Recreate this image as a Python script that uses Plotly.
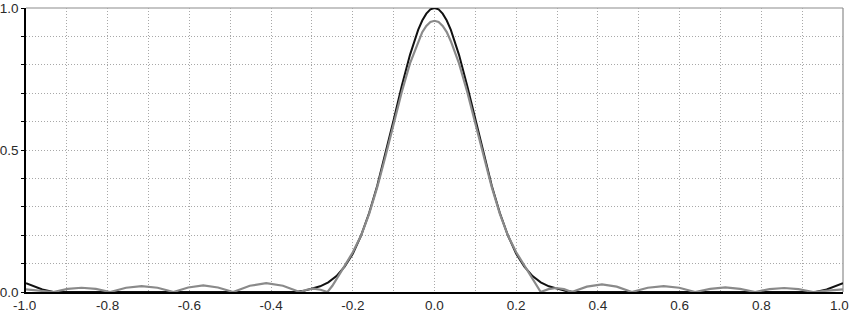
import plotly.graph_objects as go

# ---- data ----
black_x = [-1.0, -0.98, -0.96, -0.933, -0.34, -0.32, -0.30, -0.28, -0.26, -0.24, -0.22,
           -0.20, -0.18, -0.16, -0.14, -0.12, -0.10, -0.08, -0.06, -0.04, -0.03, -0.02,
           -0.01, 0.0, 0.01, 0.02, 0.03, 0.04, 0.06, 0.08, 0.10, 0.12, 0.14, 0.16, 0.18,
           0.20, 0.22, 0.24, 0.26, 0.28, 0.30, 0.32, 0.34, 0.933, 0.96, 0.98, 1.0]
black_y = [0.031, 0.02, 0.009, 0.0, 0.0, 0.004, 0.011, 0.02, 0.034, 0.056, 0.089,
           0.135, 0.198, 0.278, 0.375, 0.487, 0.606, 0.726, 0.835, 0.923, 0.956, 0.98,
           0.995, 1.0, 0.995, 0.98, 0.956, 0.923, 0.835, 0.726, 0.606, 0.487, 0.375, 0.278, 0.198,
           0.135, 0.089, 0.056, 0.034, 0.02, 0.011, 0.004, 0.0, 0.0, 0.009, 0.02, 0.031]

gray_x = [-1.0, -0.967, -0.933,
          -0.898, -0.864, -0.829, -0.794,
          -0.755, -0.717, -0.678, -0.639,
          -0.603, -0.566, -0.530, -0.493,
          -0.452, -0.412, -0.371, -0.330,
          -0.313, -0.296, -0.279, -0.262,
          -0.25, -0.24, -0.22, -0.20, -0.18, -0.16, -0.14, -0.12, -0.10, -0.08, -0.06,
          -0.04, -0.03, -0.02, -0.01, 0.0, 0.01, 0.02, 0.03, 0.04,
          0.06, 0.08, 0.10, 0.12, 0.14, 0.16, 0.18, 0.20, 0.22, 0.24, 0.25, 0.26,
          0.279, 0.298, 0.317, 0.336,
          0.373, 0.410, 0.446, 0.483,
          0.522, 0.561, 0.599, 0.638,
          0.675, 0.712, 0.748, 0.785,
          0.820, 0.856, 0.891, 0.927,
          0.963, 1.0]
gray_y = [0.009, 0.005, 0.0,
          0.011, 0.015, 0.011, 0.0,
          0.015, 0.021, 0.015, 0.0,
          0.016, 0.023, 0.016, 0.0,
          0.022, 0.031, 0.022, 0.0,
          0.008, 0.012, 0.008, 0.0,
          0.022, 0.044, 0.092, 0.14, 0.198, 0.275, 0.37, 0.478, 0.59, 0.705, 0.805,
          0.883, 0.915, 0.937, 0.951, 0.955, 0.951, 0.937, 0.915, 0.883,
          0.805, 0.705, 0.59, 0.478, 0.37, 0.275, 0.198, 0.14, 0.092, 0.044, 0.022, 0.0,
          0.01, 0.014, 0.01, 0.0,
          0.019, 0.027, 0.019, 0.0,
          0.015, 0.021, 0.015, 0.0,
          0.011, 0.016, 0.011, 0.0,
          0.010, 0.014, 0.010, 0.0,
          0.005, 0.009]

x_tickvals = [-1.0, -0.8, -0.6, -0.4, -0.2, 0.0, 0.2, 0.4, 0.6, 0.8, 1.0]
x_ticktext = ["-1.0", "-0.8", "-0.6", "-0.4", "-0.2", "0.0", "0.2", "0.4", "0.6", "0.8", "1.0"]
y_tickvals = [0.0, 0.5, 1.0]
y_ticktext = ["0.0", "0.5", "1.0"]

# ---- figure ----
grid_col = "#a8a8a8"
grid_dash = "1px,2px"
font_family = "Liberation Sans, Arial, sans-serif"
font_size = 13.5
font_color = "#2a2a2a"

fig = go.Figure()
fig.add_trace(go.Scatter(x=black_x, y=black_y, mode="lines",
                         line=dict(color="#111111", width=2), showlegend=False,
                         cliponaxis=False))
fig.add_trace(go.Scatter(x=gray_x, y=gray_y, mode="lines",
                         line=dict(color="#8a8a8a", width=2.2), showlegend=False,
                         cliponaxis=False))

# the outermost x labels are nudged inward (as in the reference) via annotations
inner_vals = x_tickvals[1:-1]
inner_text = x_ticktext[1:-1]
edge_labels = [
    dict(x=x_tickvals[0], text=x_ticktext[0], xshift=-2),
    dict(x=x_tickvals[-1], text=x_ticktext[-1], xshift=-4),
]

fig.update_layout(
    width=850, height=313,
    margin=dict(l=26, r=7, t=8, b=21, autoexpand=False),
    paper_bgcolor="white", plot_bgcolor="white",
    font=dict(family=font_family, size=font_size, color=font_color),
    xaxis=dict(range=[-1.0, 1.0], tickvals=inner_vals, ticktext=inner_text,
               automargin=False,
               showgrid=True, gridcolor=grid_col, griddash=grid_dash, gridwidth=1,
               minor=dict(dtick=0.1, tick0=0, showgrid=True, gridcolor=grid_col,
                          griddash=grid_dash, gridwidth=1),
               showline=True, linecolor="#000000", linewidth=1.5,
               zeroline=False, ticks="", fixedrange=True),
    yaxis=dict(range=[0, 1], tickvals=y_tickvals, ticktext=y_ticktext,
               automargin=False, ticklabeloverflow="allow",
               showgrid=True, gridcolor=grid_col, griddash=grid_dash, gridwidth=1,
               minor=dict(dtick=0.1, tick0=0, showgrid=True, gridcolor=grid_col,
                          griddash=grid_dash, gridwidth=1, ticks="outside", ticklen=3,
                          tickcolor="#000000"),
               ticks="outside", ticklen=3, tickcolor="#000000",
               showline=True, linecolor="#000000", linewidth=1.5,
               zeroline=False, fixedrange=True),
    shapes=[
        dict(type="line", xref="paper", yref="paper", x0=0, x1=1, y0=1, y1=1,
             line=dict(color="#8c8c8c", width=1.2), layer="below"),
        dict(type="line", xref="paper", yref="paper", x0=1, x1=1, y0=0, y1=1,
             line=dict(color="#8c8c8c", width=1.2), layer="below"),
    ],
    annotations=[
        dict(x=e["x"], y=0, xref="x", yref="paper", text=e["text"], showarrow=False,
             xanchor="center", yanchor="top", xshift=e["xshift"], yshift=-5,
             height=14, valign="middle", borderpad=0,
             font=dict(family=font_family, size=font_size, color=font_color))
        for e in edge_labels
    ],
)

fig.write_html("out.html", config={"displayModeBar": False},
               post_script="document.body.style.margin='0';document.body.style.overflow='hidden';")
